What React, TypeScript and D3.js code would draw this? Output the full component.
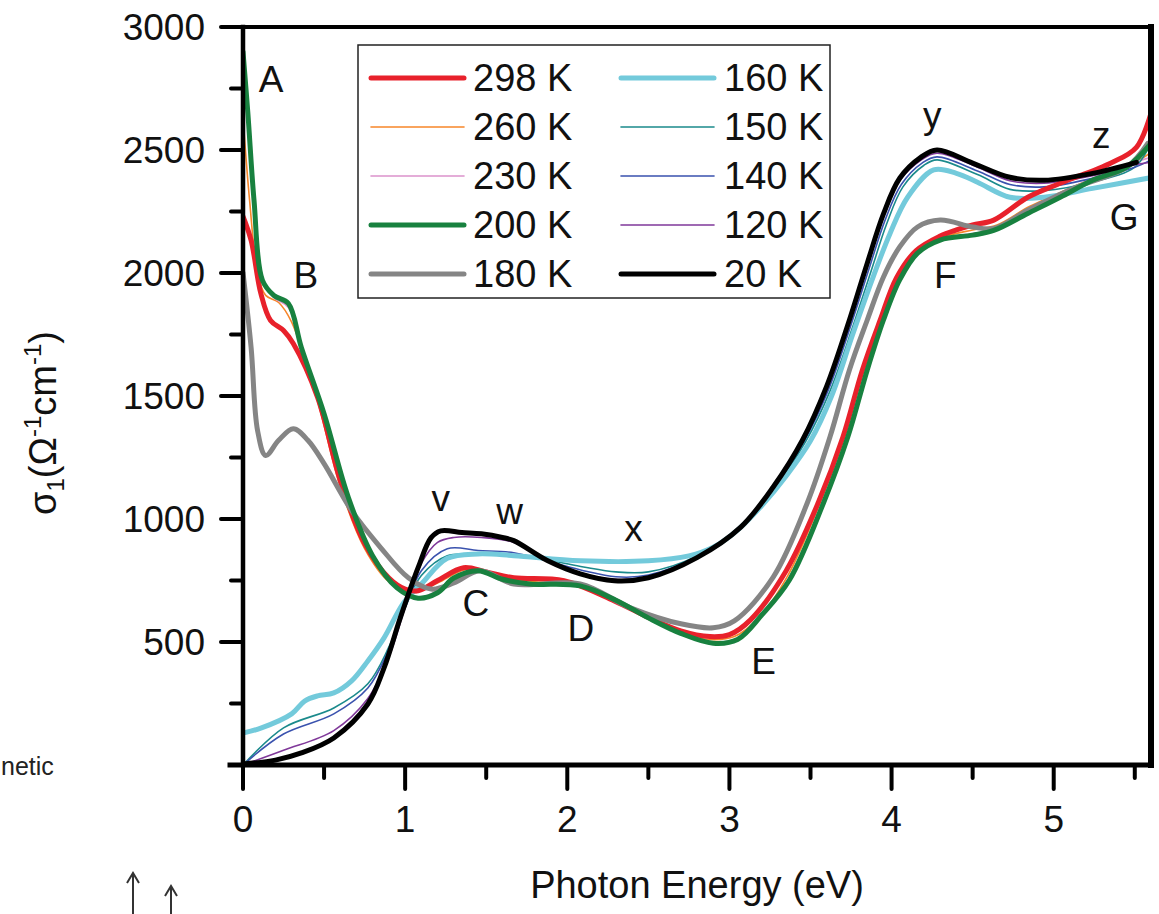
import React from "react";
import * as d3 from "d3";

type P = [number, number];

// Energy (eV), sigma1 (Ohm^-1 cm^-1)
const s298: P[] = [[0,2230],[0.05,2133],[0.11,1917],[0.17,1807],[0.25,1766],[0.31,1713],[0.46,1494],[0.6,1156],[0.75,900],[0.9,760],[1.0,715],[1.08,708],[1.2,750],[1.36,802],[1.5,785],[1.67,761],[1.98,749],[2.29,667],[2.5,600],[2.7,545],[2.88,522],[3.0,530],[3.13,590],[3.35,790],[3.55,1070],[3.7,1333],[3.82,1606],[3.93,1809],[4.03,1980],[4.15,2090],[4.3,2150],[4.4,2175],[4.5,2195],[4.63,2215],[4.84,2308],[5.04,2365],[5.35,2446],[5.51,2511],[5.6,2650]];
const s260: P[] = [[0,2633],[0.04,2300],[0.09,2000],[0.14,1909],[0.22,1880],[0.3,1800],[0.46,1480],[0.6,1130],[0.75,880],[0.9,745],[1.05,700],[1.2,740],[1.38,795],[1.55,770],[1.8,745],[2.0,740],[2.3,660],[2.5,595],[2.7,535],[2.88,510],[3.03,522],[3.18,598],[3.36,770],[3.56,1068],[3.71,1333],[3.83,1606],[3.94,1809],[4.04,1976],[4.15,2085],[4.3,2142],[4.5,2175],[4.65,2195],[4.85,2270],[5.05,2330],[5.3,2400],[5.5,2450],[5.6,2490]];
const s230: P[] = [[0,2880],[0.03,2640],[0.068,2290],[0.12,1965],[0.19,1900],[0.28,1860],[0.36,1680],[0.5,1420],[0.65,1080],[0.8,845],[0.95,718],[1.08,682],[1.2,710],[1.3,765],[1.42,792],[1.6,758],[1.77,738],[2.08,730],[2.3,668],[2.5,598],[2.7,538],[2.9,500],[3.05,515],[3.2,612],[3.37,755],[3.58,1068],[3.73,1336],[3.85,1608],[3.95,1810],[4.05,1974],[4.16,2084],[4.3,2138],[4.5,2160],[4.63,2178],[4.84,2250],[5.04,2318],[5.24,2385],[5.45,2440],[5.6,2470]];
const s200: P[] = [[0,2900],[0.03,2650],[0.068,2295],[0.12,1970],[0.19,1909],[0.28,1876],[0.36,1697],[0.5,1428],[0.65,1087],[0.8,850],[0.95,720],[1.08,678],[1.2,700],[1.3,760],[1.45,790],[1.6,755],[1.77,736],[2.08,728],[2.3,670],[2.5,598],[2.7,535],[2.9,495],[3.05,510],[3.2,610],[3.37,752],[3.58,1065],[3.73,1333],[3.85,1606],[3.95,1809],[4.05,1972],[4.16,2081],[4.3,2134],[4.5,2154],[4.63,2173],[4.84,2242],[5.04,2308],[5.24,2377],[5.45,2430],[5.6,2527]];
const s180: P[] = [[0,2002],[0.05,1697],[0.09,1359],[0.14,1258],[0.22,1320],[0.31,1367],[0.4,1320],[0.5,1225],[0.67,1034],[0.85,883],[1.02,761],[1.16,715],[1.3,740],[1.46,790],[1.67,736],[2.08,736],[2.39,639],[2.7,574],[2.9,558],[3.03,586],[3.27,764],[3.48,1065],[3.62,1333],[3.74,1606],[3.85,1809],[3.95,1984],[4.05,2106],[4.16,2187],[4.3,2215],[4.5,2187],[4.63,2181],[4.84,2255],[5.14,2349],[5.45,2430],[5.58,2527]];
const s160: P[] = [[0,130],[0.11,150],[0.3,208],[0.38,260],[0.46,281],[0.56,293],[0.67,342],[0.77,423],[0.87,517],[0.99,659],[1.1,736],[1.26,840],[1.45,858],[1.67,851],[2.08,830],[2.5,830],[2.75,850],[2.9,885],[3.05,955],[3.2,1055],[3.35,1175],[3.5,1318],[3.63,1500],[3.76,1750],[3.89,1990],[3.99,2160],[4.1,2309],[4.26,2419],[4.4,2405],[4.53,2369],[4.73,2308],[4.94,2308],[5.24,2344],[5.61,2389]];
const s150: P[] = [[0,0],[0.25,151],[0.56,232],[0.77,330],[0.9,480],[1.0,640],[1.1,770],[1.26,851],[1.45,855],[1.67,851],[1.9,830],[2.1,805],[2.3,785],[2.5,785],[2.8,850],[3.07,972],[3.27,1120],[3.47,1315],[3.62,1520],[3.76,1780],[3.87,2000],[3.97,2200],[4.07,2350],[4.2,2438],[4.28,2460],[4.53,2400],[4.73,2340],[4.94,2335],[5.24,2370],[5.5,2430],[5.6,2530]];
const s140: P[] = [[0,0],[0.25,126],[0.56,208],[0.77,313],[0.9,470],[1.0,640],[1.1,790],[1.26,879],[1.45,872],[1.67,863],[1.9,825],[2.1,790],[2.3,765],[2.5,772],[2.8,848],[3.07,968],[3.27,1124],[3.46,1316],[3.61,1525],[3.75,1790],[3.86,2015],[3.96,2215],[4.06,2360],[4.19,2448],[4.28,2472],[4.53,2415],[4.73,2360],[4.94,2350],[5.24,2385],[5.5,2430],[5.6,2460]];
const s120: P[] = [[0,0],[0.25,60],[0.56,140],[0.77,270],[0.9,440],[1.0,640],[1.1,820],[1.2,905],[1.3,925],[1.47,925],[1.67,905],[1.88,830],[2.08,780],[2.29,755],[2.5,765],[2.8,845],[3.07,966],[3.27,1128],[3.45,1316],[3.6,1533],[3.74,1800],[3.85,2030],[3.95,2230],[4.05,2375],[4.18,2458],[4.28,2487],[4.53,2430],[4.73,2375],[4.94,2365],[5.24,2395],[5.5,2440],[5.6,2450]];
const s20: P[] = [[0,4],[0.2,20],[0.36,49],[0.56,110],[0.77,248],[0.87,395],[0.97,598],[1.08,802],[1.16,924],[1.22,952],[1.35,945],[1.47,940],[1.6,925],[1.67,912],[1.88,830],[2.08,777],[2.29,749],[2.5,761],[2.8,843],[3.07,967],[3.27,1130],[3.45,1320],[3.6,1540],[3.74,1809],[3.85,2040],[3.95,2240],[4.05,2385],[4.18,2470],[4.28,2500],[4.5,2447],[4.73,2389],[4.94,2377],[5.24,2405],[5.51,2450]];

const legendCol1 = ["298 K", "260 K", "230 K", "200 K", "180 K"];
const legendCol2 = ["160 K", "150 K", "140 K", "120 K", "20 K"];

const xTicks = [0, 1, 2, 3, 4, 5];
const xMinor = [0.5, 1.5, 2.5, 3.5, 4.5, 5.5];
const yTicks = [500, 1000, 1500, 2000, 2500, 3000];
const yMinor = [250, 750, 1250, 1750, 2250, 2750];

const peakLabels: { t: string; e: number; s: number }[] = [
  { t: "A", e: 0.173, s: 2735 },
  { t: "B", e: 0.388, s: 1941 },
  { t: "C", e: 1.436, s: 606 },
  { t: "D", e: 2.083, s: 505 },
  { t: "E", e: 3.21, s: 370 },
  { t: "F", e: 4.332, s: 1941 },
  { t: "G", e: 5.434, s: 2173 },
  { t: "v", e: 1.22, s: 1034 },
  { t: "w", e: 1.645, s: 981 },
  { t: "x", e: 2.409, s: 912 },
  { t: "y", e: 4.251, s: 2588 },
  { t: "z", e: 5.293, s: 2507 },
];

type Series = { label: string; data: P[]; color: string; w: number };
const series: Series[] = [
  { label: "298 K", data: s298, color: "#e8212b", w: 5 },
  { label: "260 K", data: s260, color: "#f7862a", w: 1.6 },
  { label: "230 K", data: s230, color: "#dc92cc", w: 1.6 },
  { label: "200 K", data: s200, color: "#18813f", w: 5 },
  { label: "180 K", data: s180, color: "#858585", w: 5 },
  { label: "160 K", data: s160, color: "#73cadb", w: 5 },
  { label: "150 K", data: s150, color: "#1b8a8c", w: 1.6 },
  { label: "140 K", data: s140, color: "#3a52ae", w: 1.6 },
  { label: "120 K", data: s120, color: "#80399a", w: 1.6 },
  { label: "20 K", data: s20, color: "#000000", w: 5 },
];
const drawOrder = ["260 K", "230 K", "150 K", "140 K", "120 K", "160 K", "298 K", "180 K", "200 K", "20 K"];

const FONT = "'Liberation Sans', Arial, Helvetica, sans-serif";

export default function App() {
  const x = d3.scaleLinear().domain([0, 5.6]).range([243, 1151]);
  const y = d3.scaleLinear().domain([0, 3000]).range([765, 27]);
  const line = d3
    .line<P>()
    .x((d) => x(d[0]))
    .y((d) => y(d[1]))
    .curve(d3.curveCatmullRom.alpha(0.5));
  const byLabel = (l: string) => series.find((s) => s.label === l)!;

  const legendRowY = (i: number) => 78 + i * 49;

  return (
    <svg
      width={1159}
      height={914}
      style={{ position: "absolute", left: 0, top: 0, background: "#fff" }}
      fontFamily={FONT}
    >
      <rect x={0} y={0} width={1159} height={914} fill="#fff" />
      <defs>
        <clipPath id="plot">
          <rect x={x(0)} y={y(3000)} width={x(5.6) - x(0)} height={y(0) - y(3000)} />
        </clipPath>
      </defs>

      {/* curves */}
      <g clipPath="url(#plot)" fill="none" strokeLinejoin="round" strokeLinecap="round">
        {drawOrder.map((l) => {
          const s = byLabel(l);
          return <path key={l} d={line(s.data) || ""} stroke={s.color} strokeWidth={s.w} />;
        })}
      </g>

      {/* frame */}
      <g stroke="#000" strokeLinecap="square">
        <line x1={x(0)} x2={x(5.6)} y1={y(3000)} y2={y(3000)} strokeWidth={4} />
        <line x1={x(5.6)} x2={x(5.6)} y1={y(3000)} y2={y(0)} strokeWidth={6} />
        <line x1={x(0)} x2={x(0)} y1={y(3000)} y2={y(0)} strokeWidth={4.5} />
        <line x1={230} x2={x(5.6)} y1={y(0)} y2={y(0)} strokeWidth={5} />
      </g>

      {/* ticks */}
      <g stroke="#000" strokeWidth={4} strokeLinecap="round">
        {yTicks.map((t) => (
          <line key={t} x1={221} x2={x(0)} y1={y(t)} y2={y(t)} />
        ))}
        {yMinor.map((t) => (
          <line key={t} x1={231} x2={x(0)} y1={y(t)} y2={y(t)} />
        ))}
        {xTicks.map((t) => (
          <line key={t} x1={x(t)} x2={x(t)} y1={y(0)} y2={789} />
        ))}
        {xMinor.map((t) => (
          <line key={t} x1={x(t)} x2={x(t)} y1={y(0)} y2={778} />
        ))}
      </g>

      {/* tick labels */}
      <g fontSize={37} fill="#111">
        {yTicks.map((t) => (
          <text key={t} x={205} y={y(t)} textAnchor="end" dominantBaseline="central">
            {t}
          </text>
        ))}
        {xTicks.map((t) => (
          <text key={t} x={x(t)} y={832} textAnchor="middle">
            {t}
          </text>
        ))}
      </g>

      {/* axis titles */}
      <text x={697} y={898} fontSize={38} textAnchor="middle" fill="#111">
        Photon Energy (eV)
      </text>
      <text transform="translate(56,423) rotate(-90)" fontSize={38} textAnchor="middle" fill="#111">
        σ
        <tspan fontSize={24} dy={8}>1</tspan>
        <tspan dy={-8}>(Ω</tspan>
        <tspan fontSize={24} dy={-15}>-1</tspan>
        <tspan dy={15}>cm</tspan>
        <tspan fontSize={24} dy={-15}>-1</tspan>
        <tspan dy={15}>)</tspan>
      </text>

      {/* peak labels */}
      <g fontSize={37} fill="#111" textAnchor="middle">
        {peakLabels.map((p) => (
          <text key={p.t} x={x(p.e)} y={y(p.s)}>
            {p.t}
          </text>
        ))}
      </g>

      {/* legend */}
      <rect x={358} y={45} width={472} height={253} fill="#fff" stroke="#222" strokeWidth={1.5} />
      {legendCol1.map((l, i) => {
        const s = byLabel(l);
        return (
          <g key={l}>
            <line x1={371} x2={464} y1={legendRowY(i)} y2={legendRowY(i)} stroke={s.color} strokeWidth={s.w} strokeLinecap="round" />
            <text x={473} y={legendRowY(i)} fontSize={38} dominantBaseline="central" fill="#111">
              {l}
            </text>
          </g>
        );
      })}
      {legendCol2.map((l, i) => {
        const s = byLabel(l);
        return (
          <g key={l}>
            <line x1={621} x2={714} y1={legendRowY(i)} y2={legendRowY(i)} stroke={s.color} strokeWidth={s.w} strokeLinecap="round" />
            <text x={724} y={legendRowY(i)} fontSize={38} dominantBaseline="central" fill="#111">
              {l}
            </text>
          </g>
        );
      })}

      {/* fragments of the neighbouring figure visible at the edge */}
      <text x={1} y={775} fontSize={25} fill="#222">
        netic
      </text>
      <g stroke="#333" strokeWidth={2} fill="none">
        <line x1={133} x2={133} y1={914} y2={874} />
        <path d="M127,883 L133,873 L139,883" />
        <line x1={171} x2={171} y1={914} y2={887} />
        <path d="M165,896 L171,886 L177,896" />
      </g>
    </svg>
  );
}
